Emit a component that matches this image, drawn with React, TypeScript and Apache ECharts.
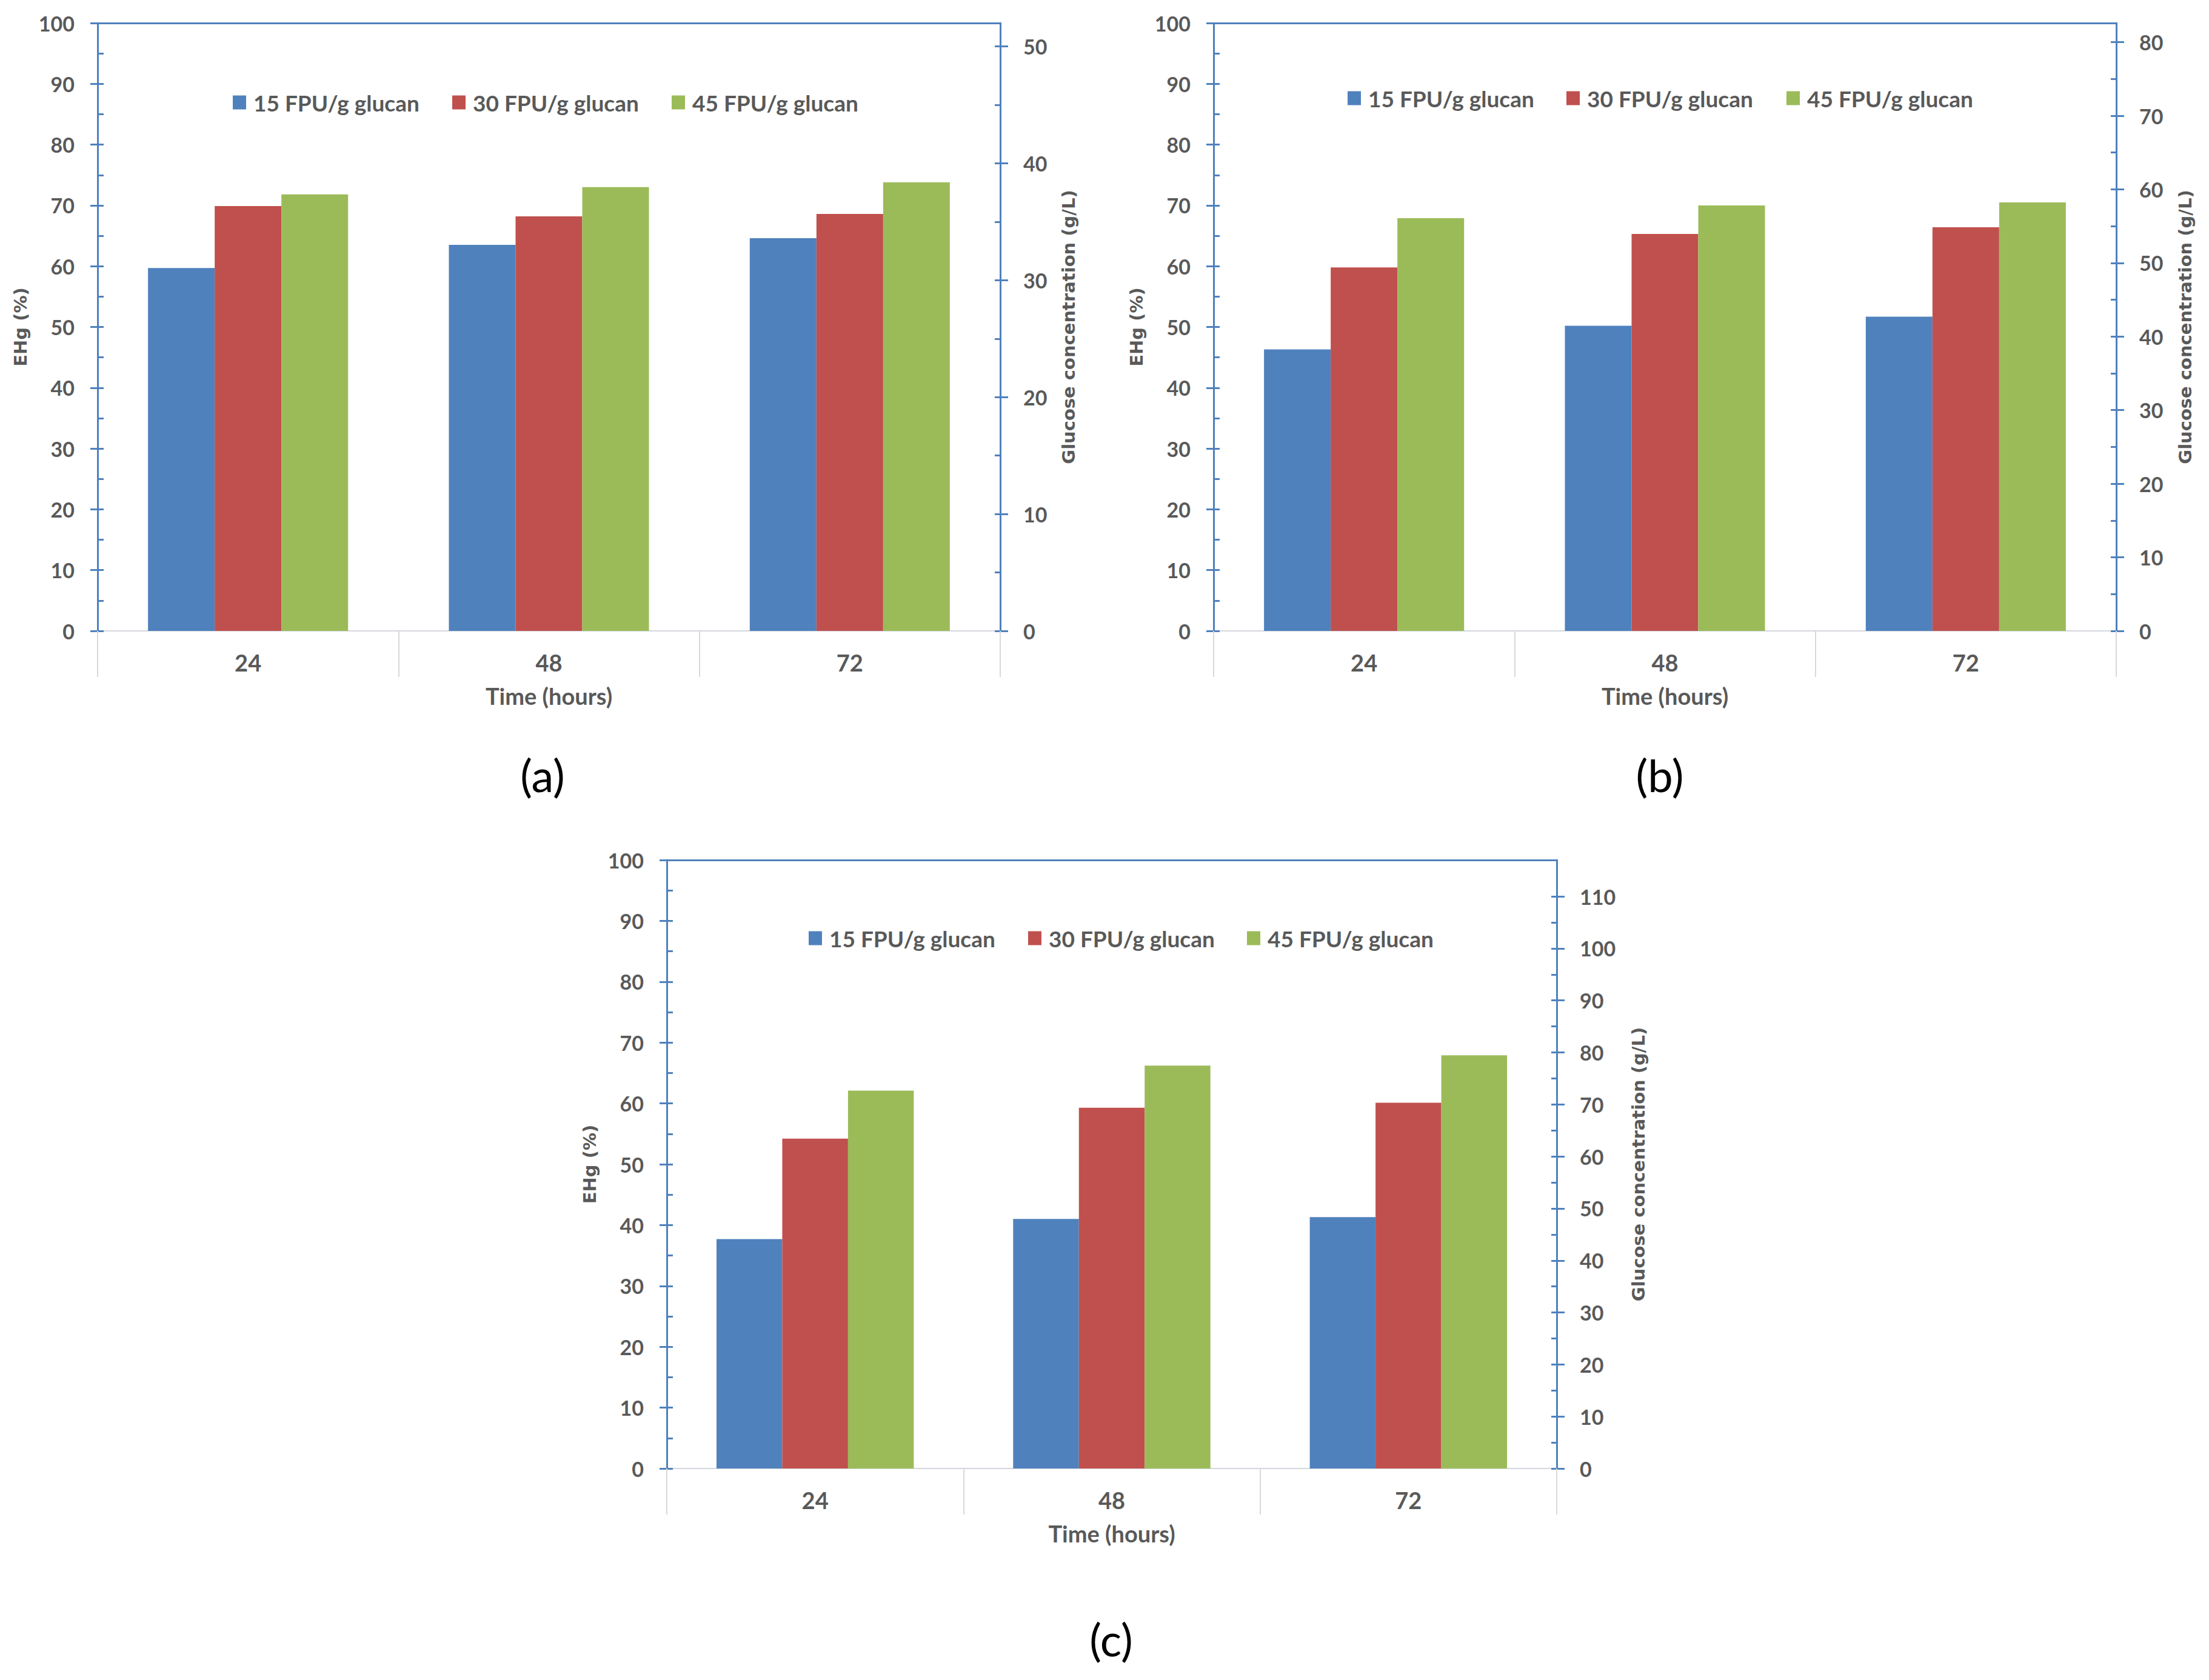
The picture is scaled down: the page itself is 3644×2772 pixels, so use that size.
import React, { useEffect, useRef } from "react";
import * as echarts from "echarts";

// categories and series
const hours = ["24", "48", "72"];
const doseNames = ["15 FPU/g glucan", "30 FPU/g glucan", "45 FPU/g glucan"];

// EHg (%), one array per enzyme dose
const panelA15 = [59.7, 63.5, 64.6];
const panelA30 = [69.9, 68.2, 68.6];
const panelA45 = [71.8, 73.0, 73.8];

const panelB15 = [46.3, 50.2, 51.7];
const panelB30 = [59.8, 65.3, 66.4];
const panelB45 = [67.9, 70.0, 70.5];

const panelC15 = [37.7, 41.0, 41.3];
const panelC30 = [54.2, 59.3, 60.1];
const panelC45 = [62.1, 66.2, 67.9];

// tick labels
const ehTicks = [0, 10, 20, 30, 40, 50, 60, 70, 80, 90, 100];
const glucoseTicksA = [0, 10, 20, 30, 40, 50];
const glucoseTicksB = [0, 10, 20, 30, 40, 50, 60, 70, 80];
const glucoseTicksC = [0, 10, 20, 30, 40, 50, 60, 70, 80, 90, 100, 110];
const glucoseMaxA = 52;
const glucoseMaxB = 82.6;
const glucoseMaxC = 117;

const colors = ["#4F81BD", "#C0504D", "#9BBB59"];
const blue = "#4F81BD";
const textGrey = "#595959";
const font = "Lato";

// half steps for the small inside ticks
const withHalves = (ticks: number[]) =>
  ticks.flatMap((t, i) => (i < ticks.length - 1 ? [t, t + 5] : [t]));

const panels = [
  {
    label: "(a)",
    values: [panelA15, panelA30, panelA45],
    gTicks: glucoseTicksA,
    gMax: glucoseMaxA,
    grid: { left: 161, top: 38, width: 1489, height: 1003 },
    legendX: [384, 746, 1108],
    legendY: 169,
    labelXY: [895, 1278],
    rightGap: 98,
  },
  {
    label: "(b)",
    values: [panelB15, panelB30, panelB45],
    gTicks: glucoseTicksB,
    gMax: glucoseMaxB,
    grid: { left: 2002, top: 38, width: 1489, height: 1003 },
    legendX: [2223, 2584, 2947],
    legendY: 162,
    labelXY: [2738, 1278],
    rightGap: 99,
  },
  {
    label: "(c)",
    values: [panelC15, panelC30, panelC45],
    gTicks: glucoseTicksC,
    gMax: glucoseMaxC,
    grid: { left: 1100, top: 1419, width: 1468, height: 1004 },
    legendX: [1334, 1696, 2057],
    legendY: 1548,
    labelXY: [1833, 2704],
    rightGap: 120,
  },
];

const tickLabel = {
  fontFamily: font,
  fontWeight: "bold" as const,
  fontSize: 34,
  color: textGrey,
};
const sideName = {
  fontFamily: "DejaVu Sans",
  fontWeight: "bold" as const,
  fontSize: 29,
  color: textGrey,
};

const App: React.FC = () => {
  const chartRef = useRef<HTMLDivElement>(null);

  useEffect(() => {
    document.body.style.margin = "0";
    const chart = echarts.init(chartRef.current, null, { renderer: "svg" });

    const grids: any[] = [];
    const xAxes: any[] = [];
    const yAxes: any[] = [];
    const series: any[] = [];
    const legends: any[] = [];
    const graphics: any[] = [];

    panels.forEach((p, i) => {
      grids.push({ ...p.grid, containLabel: false });

      xAxes.push({
        type: "category",
        gridIndex: i,
        data: hours,
        position: "bottom",
        axisLine: { onZero: false, lineStyle: { color: "#D3D8DE", width: 2 } },
        axisTick: {
          show: true,
          interval: 0,
          alignWithLabel: false,
          length: 76,
          lineStyle: { color: "#D9D9D9", width: 2 },
        },
        axisLabel: { ...tickLabel, fontSize: 38, margin: 33, interval: 0 },
        name: "Time (hours)",
        nameLocation: "middle",
        nameGap: 88,
        nameTextStyle: { ...tickLabel, fontSize: 38 },
        splitLine: { show: false },
      });
      xAxes.push({
        type: "category",
        gridIndex: i,
        data: hours,
        position: "top",
        axisLine: { onZero: false, lineStyle: { color: blue, width: 3 } },
        axisTick: { show: false },
        axisLabel: { show: false },
        splitLine: { show: false },
      });

      const gMinor = withHalves(p.gTicks);
      yAxes.push({
        type: "value",
        gridIndex: i,
        position: "left",
        min: 0,
        max: 100,
        axisLine: { show: true, onZero: false, lineStyle: { color: blue, width: 3 } },
        axisTick: { show: true, customValues: ehTicks, length: 12, lineStyle: { color: blue, width: 3 } },
        axisLabel: { ...tickLabel, customValues: ehTicks, margin: 38 },
        splitLine: { show: false },
        name: "EHg (%)",
        nameLocation: "middle",
        nameRotate: 90,
        nameGap: 113,
        nameTextStyle: sideName,
      });
      yAxes.push({
        type: "value",
        gridIndex: i,
        position: "left",
        min: 0,
        max: 100,
        axisLine: { show: false },
        axisTick: { show: true, inside: true, customValues: withHalves(ehTicks), length: 10, lineStyle: { color: blue, width: 3 } },
        axisLabel: { show: false },
        splitLine: { show: false },
      });
      yAxes.push({
        type: "value",
        gridIndex: i,
        position: "right",
        min: 0,
        max: p.gMax,
        axisLine: { show: true, onZero: false, lineStyle: { color: blue, width: 3 } },
        axisTick: { show: true, customValues: p.gTicks, length: 13, lineStyle: { color: blue, width: 3 } },
        axisLabel: { ...tickLabel, customValues: p.gTicks, margin: 38 },
        splitLine: { show: false },
        name: "Glucose concentration (g/L)",
        nameLocation: "middle",
        nameRotate: 90,
        nameGap: p.rightGap,
        nameTextStyle: sideName,
      });
      yAxes.push({
        type: "value",
        gridIndex: i,
        position: "right",
        min: 0,
        max: p.gMax,
        axisLine: { show: false },
        axisTick: { show: true, inside: true, customValues: gMinor, length: 9, lineStyle: { color: blue, width: 3 } },
        axisLabel: { show: false },
        splitLine: { show: false },
      });

      p.values.forEach((vals, j) => {
        series.push({
          type: "bar",
          name: doseNames[j],
          xAxisIndex: i * 2,
          yAxisIndex: i * 4,
          data: vals,
          barGap: "0%",
          barCategoryGap: "33.5%",
          itemStyle: { color: colors[j] },
          emphasis: { disabled: true },
        });
        legends.push({
          data: [doseNames[j]],
          left: p.legendX[j],
          top: p.legendY - 20,
          padding: 0,
          icon: "rect",
          itemWidth: 22,
          itemHeight: 23,
          selectedMode: false,
          textStyle: {
            fontFamily: font,
            fontWeight: "bold",
            fontSize: 37,
            color: textGrey,
            lineHeight: 40,
            padding: [0, 0, 0, 7],
          },
        });
      });

      graphics.push({
        type: "text",
        x: p.labelXY[0],
        y: p.labelXY[1],
        style: {
          text: p.label,
          fontFamily: font,
          fontSize: 74,
          fill: "#000000",
          textAlign: "center",
          textVerticalAlign: "middle",
        },
      });
    });

    chart.setOption({
      animation: false,
      backgroundColor: "#ffffff",
      grid: grids,
      xAxis: xAxes,
      yAxis: yAxes,
      series,
      legend: legends,
      graphic: graphics,
    });

    return () => {
      chart.dispose();
    };
  }, []);

  return <div ref={chartRef} style={{ width: 3644, height: 2772 }}></div>;
};

export default App;
